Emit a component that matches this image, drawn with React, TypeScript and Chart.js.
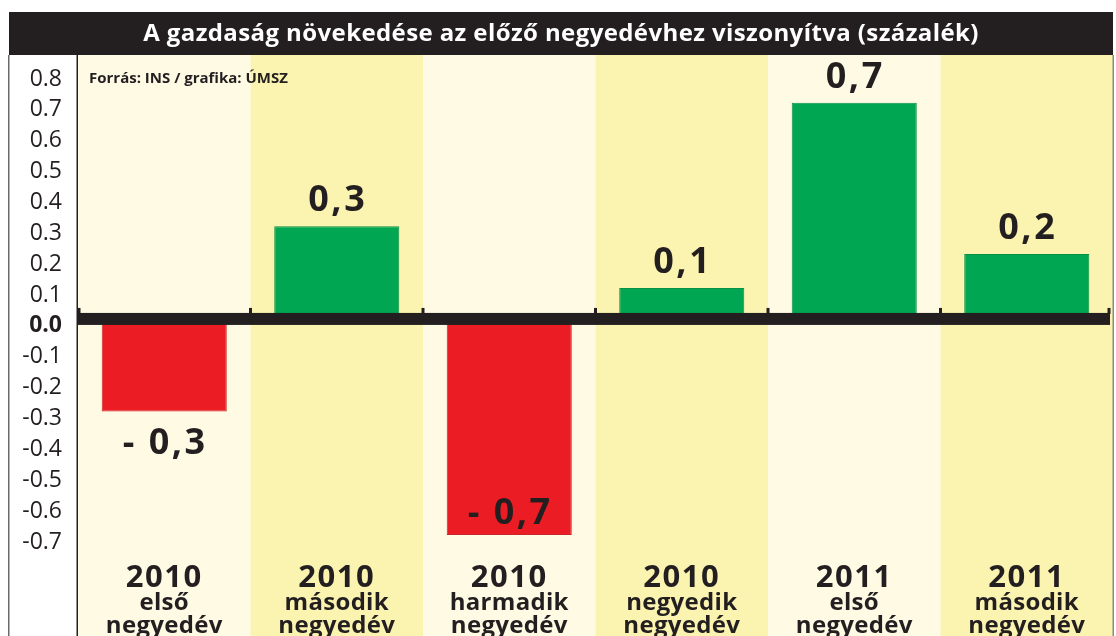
import React, { useEffect, useRef } from "react";
import { Chart, registerables } from "chart.js";

Chart.register(...registerables);

// ---- data ----
const categories = [
  "2010 első negyedév",
  "2010 második negyedév",
  "2010 harmadik negyedév",
  "2010 negyedik negyedév",
  "2011 első negyedév",
  "2011 második negyedév",
];
const yearLabels = ["2010", "2010", "2010", "2010", "2011", "2011"];
const quarterLabels = ["első", "második", "harmadik", "negyedik", "első", "második"];
const periodWords = ["negyedév", "negyedév", "negyedév", "negyedév", "negyedév", "negyedév"];
const growthValues = [-0.3, 0.3, -0.7, 0.1, 0.7, 0.21];
const valueLabels = ["- 0,3", "0,3", "- 0,7", "0,1", "0,7", "0,2"];
const tickValues = [0.8, 0.7, 0.6, 0.5, 0.4, 0.3, 0.2, 0.1, 0, -0.1, -0.2, -0.3, -0.4, -0.5, -0.6, -0.7];
const titleText = "A gazdaság növekedése az előző negyedévhez viszonyítva (százalék)";
const sourceText = "Forrás: INS / grafika: ÚMSZ";

const FONT = "'Open Sans', 'Noto Sans', sans-serif";
const INK = "#231f20";
const GREEN = "#00a651";
const RED = "#ec1c24";
const BAND_LIGHT = "#fefae4";
const BAND_YELLOW = "#fbf4b0";

const decorPlugin = {
  id: "decor",
  beforeDraw(chart: any) {
    const { ctx, width, height, chartArea, scales } = chart;
    const xs = scales.x;
    ctx.save();
    ctx.fillStyle = "#ffffff";
    ctx.fillRect(0, 0, width, height);
    const n = categories.length;
    const bandW = (chartArea.right - chartArea.left) / n;
    for (let i = 0; i < n; i++) {
      const cx = xs.getPixelForValue(i);
      ctx.fillStyle = i % 2 === 0 ? BAND_LIGHT : BAND_YELLOW;
      ctx.fillRect(cx - bandW / 2, 55, bandW, height - 55);
    }
    // title bar
    ctx.fillStyle = INK;
    ctx.fillRect(9, 12, 1104, 43);
    ctx.fillStyle = "#ffffff";
    ctx.font = `bold 24px ${FONT}`;
    (ctx as any).letterSpacing = "0.4px";
    ctx.textAlign = "center";
    ctx.textBaseline = "middle";
    ctx.fillText(titleText, 561, 34);
    (ctx as any).letterSpacing = "0px";
    // frame lines
    ctx.fillStyle = "#6b6b6b";
    ctx.fillRect(8, 55, 1.5, height - 55);
    ctx.fillStyle = "#8a8a80";
    ctx.fillRect(1112.5, 55, 1.5, height - 55);
    ctx.fillStyle = INK;
    ctx.fillRect(chartArea.left - 1.5, 55, 1.5, height - 55);
    // source
    ctx.fillStyle = INK;
    ctx.font = `bold 15px ${FONT}`;
    ctx.textAlign = "left";
    ctx.fillText(sourceText, 89, 79);
    ctx.restore();
  },
  afterDatasetsDraw(chart: any) {
    const { ctx, chartArea, scales } = chart;
    const xs = scales.x;
    const ys = scales.y;
    const y0 = ys.getPixelForValue(0);
    const n = categories.length;
    const bandW = (chartArea.right - chartArea.left) / n;
    ctx.save();
    // zero line
    ctx.fillStyle = INK;
    ctx.fillRect(chartArea.left, y0 - 6, chartArea.right - chartArea.left - 3, 12);
    for (let i = 0; i <= n; i++) {
      let x = chartArea.left + i * bandW;
      if (i === n) x -= 4;
      if (i === 0) x += 1;
      ctx.fillRect(x - 1.5, y0 - 11, 3, 6);
    }
    // value labels
    ctx.fillStyle = INK;
    ctx.font = `bold 36px ${FONT}`;
    (ctx as any).letterSpacing = "2.5px";
    ctx.textAlign = "center";
    ctx.textBaseline = "alphabetic";
    growthValues.forEach((v, i) => {
      const x = xs.getPixelForValue(i) + 1;
      const yEnd = ys.getPixelForValue(v);
      let yb;
      if (v >= 0) {
        yb = yEnd - 15;
      } else if (yEnd + 45 > chartArea.bottom) {
        yb = yEnd - 11;
      } else {
        yb = yEnd + 42;
      }
      ctx.fillText(valueLabels[i], x, yb);
    });
    // category labels
    ctx.textBaseline = "middle";
    for (let i = 0; i < n; i++) {
      const x = xs.getPixelForValue(i);
      (ctx as any).letterSpacing = "1.5px";
      ctx.font = `bold 31px ${FONT}`;
      ctx.fillText(yearLabels[i], x, 578);
      (ctx as any).letterSpacing = "0.3px";
      ctx.font = `bold 24px ${FONT}`;
      ctx.fillText(quarterLabels[i], x, 603);
      ctx.fillText(periodWords[i], x, 626);
    }
    ctx.restore();
  },
};

export default function App() {
  const ref = useRef<HTMLCanvasElement | null>(null);
  useEffect(() => {
    document.body.style.margin = "0";
    const canvas = ref.current;
    if (!canvas) return;
    const chart = new Chart(canvas, {
      type: "bar",
      data: {
        labels: categories,
        datasets: [
          {
            data: growthValues,
            backgroundColor: growthValues.map((v) => (v >= 0 ? GREEN : RED)),
            borderColor: growthValues.map((v) => (v >= 0 ? "#0a8f48" : "#c8242a")),
            borderWidth: 1,
            borderSkipped: false,
            categoryPercentage: 1,
            barPercentage: 0.725,
          },
        ],
      },
      options: {
        responsive: false,
        animation: false,
        events: [],
        layout: { padding: { left: 0, right: 3, top: 72, bottom: 101 } },
        plugins: { legend: { display: false }, title: { display: false }, tooltip: { enabled: false } },
        scales: {
          x: { display: false, offset: true },
          y: {
            min: -0.7,
            max: 0.8,
            afterFit: (scale: any) => {
              scale.width = 78;
            },
            afterBuildTicks: (scale: any) => {
              scale.ticks = tickValues.map((v) => ({ value: v }));
            },
            grid: { display: false, drawTicks: false },
            border: { display: false },
            ticks: {
              padding: 16,
              labelOffset: 7,
              color: INK,
              autoSkip: false,
              callback: (v: any) => Number(v).toFixed(1),
              font: (c: any) => ({
                family: FONT,
                size: 23,
                weight: c.tick && Math.abs(c.tick.value) < 1e-9 ? "bold" : "normal",
              }),
            },
          },
        },
      },
      plugins: [decorPlugin],
    });
    return () => chart.destroy();
  }, []);
  return (
    <div style={{ position: "fixed", left: 0, top: 0, width: 1116, height: 636 }}>
      <canvas ref={ref} width={1116} height={636} style={{ width: 1116, height: 636, display: "block" }} />
    </div>
  );
}
